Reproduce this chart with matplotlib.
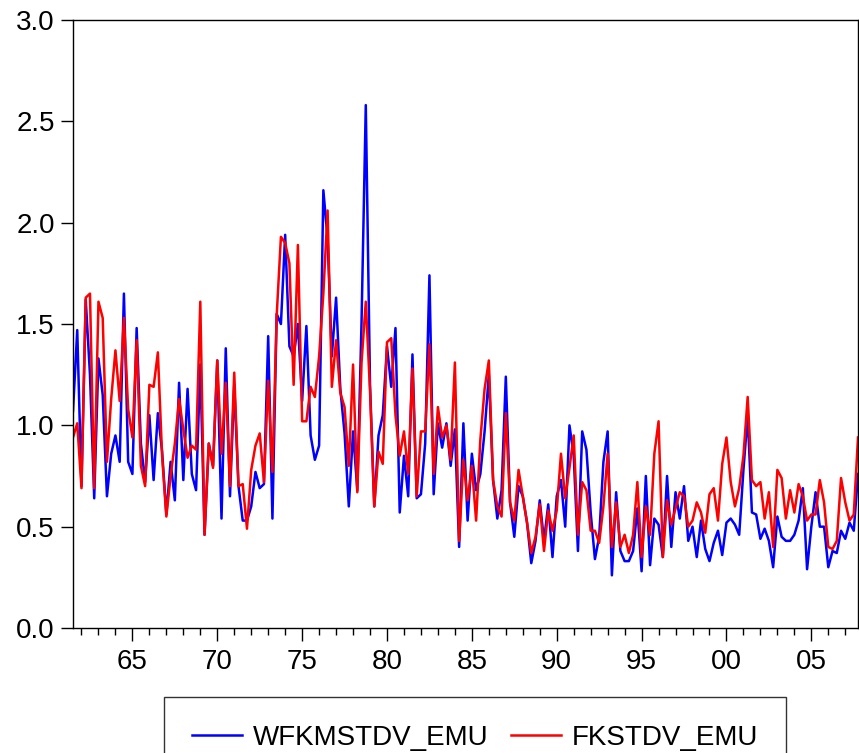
import numpy as np
import pandas as pd
import matplotlib
matplotlib.use("Agg")
import matplotlib.pyplot as plt
from matplotlib.ticker import MultipleLocator

plt.rcParams['font.family'] = ['Liberation Sans Narrow', 'Liberation Sans', 'DejaVu Sans']

# quarterly sample 1961Q3 - 2007Q4
start_quarter = "1961Q3"

wfkmstdv_emu = [
    1.07, 1.47, 0.70, 1.62, 1.25, 0.64, 1.33, 1.15, 0.65, 0.86,
    0.95, 0.82, 1.65, 0.82, 0.76, 1.48, 0.91, 0.72, 1.05, 0.73,
    1.06, 0.87, 0.56, 0.82, 0.63, 1.21, 0.73, 1.18, 0.76, 0.68,
    1.30, 0.46, 0.91, 0.80, 1.32, 0.54, 1.38, 0.65, 1.20, 0.70,
    0.53, 0.53, 0.60, 0.77, 0.69, 0.71, 1.44, 0.54, 1.55, 1.50,
    1.94, 1.39, 1.34, 1.50, 1.12, 1.49, 0.95, 0.83, 0.90, 2.16,
    1.92, 1.34, 1.63, 1.18, 0.96, 0.60, 0.97, 0.68, 1.51, 2.58,
    1.20, 0.60, 0.95, 1.05, 1.39, 1.19, 1.48, 0.57, 0.85, 0.65,
    1.35, 0.64, 0.66, 0.91, 1.74, 0.66, 1.01, 0.89, 1.01, 0.80,
    0.98, 0.40, 1.01, 0.53, 0.86, 0.68, 0.76, 0.97, 1.25, 0.73,
    0.54, 0.68, 1.24, 0.62, 0.45, 0.70, 0.65, 0.52, 0.32, 0.43,
    0.63, 0.43, 0.61, 0.35, 0.65, 0.73, 0.50, 1.00, 0.85, 0.38,
    0.97, 0.88, 0.57, 0.34, 0.45, 0.82, 0.97, 0.26, 0.67, 0.38,
    0.33, 0.33, 0.38, 0.59, 0.28, 0.75, 0.31, 0.54, 0.51, 0.35,
    0.75, 0.40, 0.67, 0.54, 0.70, 0.43, 0.50, 0.35, 0.53, 0.39,
    0.33, 0.42, 0.48, 0.36, 0.52, 0.54, 0.51, 0.46, 0.78, 1.05,
    0.57, 0.56, 0.44, 0.49, 0.43, 0.30, 0.55, 0.45, 0.43, 0.43,
    0.46, 0.53, 0.69, 0.29, 0.50, 0.67, 0.50, 0.50, 0.30, 0.38,
    0.37, 0.48, 0.44, 0.52, 0.48, 0.76,
]

fkstdv_emu = [
    0.94, 1.01, 0.69, 1.63, 1.65, 0.69, 1.61, 1.53, 0.82, 1.13,
    1.37, 1.12, 1.53, 1.08, 0.94, 1.42, 0.80, 0.70, 1.20, 1.19,
    1.36, 0.85, 0.55, 0.75, 0.91, 1.13, 0.98, 0.84, 0.90, 0.88,
    1.61, 0.46, 0.91, 0.79, 1.32, 0.86, 1.21, 0.70, 1.26, 0.70,
    0.71, 0.49, 0.78, 0.90, 0.96, 0.72, 1.22, 0.77, 1.54, 1.93,
    1.90, 1.80, 1.20, 1.89, 1.02, 1.02, 1.19, 1.14, 1.34, 1.65,
    2.06, 1.19, 1.42, 1.16, 1.09, 0.80, 1.30, 0.67, 1.31, 1.61,
    1.17, 0.60, 0.87, 0.81, 1.41, 1.43, 1.05, 0.85, 0.97, 0.76,
    1.28, 0.65, 0.97, 0.97, 1.40, 0.76, 1.09, 0.94, 1.00, 0.83,
    1.31, 0.43, 0.83, 0.63, 0.80, 0.53, 0.93, 1.18, 1.32, 0.73,
    0.60, 0.55, 1.06, 0.62, 0.53, 0.78, 0.65, 0.52, 0.37, 0.45,
    0.61, 0.38, 0.58, 0.48, 0.58, 0.86, 0.64, 0.79, 0.95, 0.46,
    0.72, 0.68, 0.48, 0.48, 0.42, 0.60, 0.86, 0.40, 0.62, 0.40,
    0.46, 0.37, 0.46, 0.72, 0.35, 0.60, 0.46, 0.86, 1.02, 0.35,
    0.63, 0.51, 0.59, 0.67, 0.65, 0.50, 0.53, 0.62, 0.57, 0.47,
    0.66, 0.69, 0.53, 0.81, 0.94, 0.72, 0.60, 0.69, 0.85, 1.14,
    0.73, 0.70, 0.72, 0.54, 0.67, 0.40, 0.78, 0.74, 0.54, 0.68,
    0.57, 0.71, 0.65, 0.53, 0.56, 0.56, 0.73, 0.62, 0.40, 0.39,
    0.43, 0.74, 0.62, 0.53, 0.56, 0.94,
]

year_ticks = [1965, 1970, 1975, 1980, 1985, 1990, 1995, 2000, 2005]
year_labels = ["65", "70", "75", "80", "85", "90", "95", "00", "05"]

quarters = pd.period_range(start=start_quarter, periods=len(fkstdv_emu), freq="Q")
t = quarters.year + (quarters.quarter - 1) / 4.0

fig = plt.figure(figsize=(8.59, 7.53), dpi=100)
ax = fig.add_axes([73 / 859, 1 - 628 / 753, 785 / 859, 608 / 753])

ax.plot(t, wfkmstdv_emu, color="#0000ff", lw=1.8, label="WFKMSTDV_EMU")
ax.plot(t, fkstdv_emu, color="#ff0000", lw=1.8, label="FKSTDV_EMU")

ax.set_xlim(t[0], t[-1])
ax.set_ylim(0, 3.0)
ax.yaxis.set_major_locator(MultipleLocator(0.5))
ax.yaxis.set_major_formatter(matplotlib.ticker.FormatStrFormatter("%.1f"))
ax.set_xticks(year_ticks)
ax.set_xticklabels(year_labels)
ax.xaxis.set_minor_locator(MultipleLocator(1))

ax.tick_params(axis="y", direction="out", length=9, width=1, labelsize=20, pad=4)
ax.tick_params(axis="x", which="major", direction="out", length=9, width=1, labelsize=20, pad=6)
ax.tick_params(axis="x", which="minor", direction="out", length=5, width=1)
for s in ax.spines.values():
    s.set_linewidth(1.0)
    s.set_color("black")

# legend box runs off the bottom edge, as in the original export
leg = fig.legend(loc="upper center", bbox_to_anchor=(475 / 859, 1 - 683 / 753), ncol=2,
                 fontsize=20, frameon=True, fancybox=False, edgecolor="black",
                 handlelength=1.8, columnspacing=0.8, handletextpad=0.4, borderpad=1.0)
leg.get_frame().set_linewidth(1.0)

fig.savefig("out.png", dpi=100)
